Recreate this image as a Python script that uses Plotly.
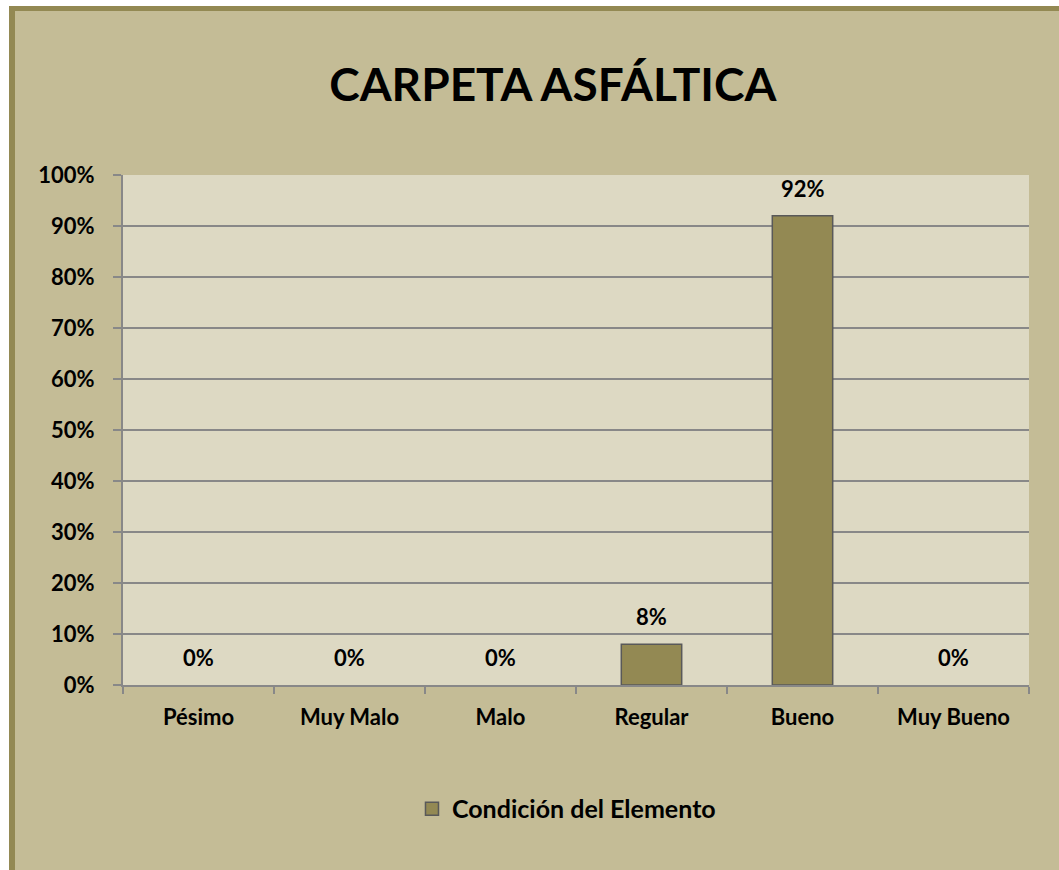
import plotly.graph_objects as go

categories = ["Pésimo", "Muy Malo", "Malo", "Regular", "Bueno", "Muy Bueno"]
values = [0.0, 0.0, 0.0, 0.08, 0.92, 0.0]
value_labels = ["0%", "0%", "0%", "8%", "92%", "0%"]
y_tick_vals = [0, 0.1, 0.2, 0.3, 0.4, 0.5, 0.6, 0.7, 0.8, 0.9, 1.0]
y_tick_text = ["0%", "10%", "20%", "30%", "40%", "50%", "60%", "70%", "80%", "90%", "100%"]
series_name = "Condición del Elemento"
title_text = "CARPETA ASFÁLTICA"

FONT = "Lato"
BAR = "#938953"
PAPER = "#C4BC96"
PLOT = "#DDD9C3"
GRID = "#888888"
EDGE = "#595959"

fig = go.Figure()
fig.add_trace(go.Bar(
    x=categories, y=values, name=series_name,
    marker=dict(color=BAR, line=dict(color=EDGE, width=[1.5 if v > 0 else 0 for v in values])),
    showlegend=False, hoverinfo="skip",
))
# legend entry with a larger square swatch
fig.add_trace(go.Scatter(
    x=[None], y=[None], mode="markers", name="<b>%s</b>" % series_name,
    marker=dict(symbol="square", size=13, color=BAR, line=dict(color=EDGE, width=1.5)),
    showlegend=True, hoverinfo="skip",
))

for c, v, t in zip(categories, values, value_labels):
    fig.add_annotation(x=c, y=v, text="<b>%s</b>" % t, showarrow=False,
                       yanchor="bottom", yshift=12,
                       font=dict(family=FONT, size=22, color="black"))

# frame (outer chart border / page margin)
shapes = [
    dict(type="rect", xref="paper", yref="paper", x0=-0.3, x1=-0.1258, y0=-0.6, y1=1.6,
         fillcolor="white", line=dict(width=0), layer="above"),
    dict(type="rect", xref="paper", yref="paper", x0=-0.3, x1=1.3, y0=1.3314, y1=1.6,
         fillcolor="white", line=dict(width=0), layer="above"),
    dict(type="rect", xref="paper", yref="paper", x0=-0.1258, x1=-0.1192, y0=-0.6, y1=1.3314,
         fillcolor=BAR, line=dict(width=0), layer="above"),
    dict(type="rect", xref="paper", yref="paper", x0=-0.1258, x1=1.3, y0=1.3216, y1=1.3314,
         fillcolor=BAR, line=dict(width=0), layer="above"),
]

fig.update_layout(
    width=1059, height=870,
    margin=dict(l=123, r=30, t=175, b=185),
    paper_bgcolor=PAPER, plot_bgcolor=PLOT,
    font=dict(family=FONT, color="black"),
    title=dict(text="<b>%s</b>" % title_text, x=0.522, xanchor="center",
               y=1 - 85 / 870, yanchor="middle",
               font=dict(family=FONT, size=46, color="black")),
    bargap=0.6,
    shapes=shapes,
    legend=dict(orientation="h", x=0.4895, xanchor="center", y=-0.243, yanchor="middle",
                font=dict(family=FONT, size=25, color="black"),
                itemwidth=30, bgcolor="rgba(0,0,0,0)"),
    showlegend=True,
)

fig.update_xaxes(
    type="category", tickson="boundaries", ticks="outside", ticklen=7, tickwidth=2,
    tickcolor=GRID, showline=True, linecolor=GRID, linewidth=2,
    tickfont=dict(family=FONT, size=22, color="black"),
    ticktext=["<b>%s</b>" % c for c in categories], tickvals=categories,
    ticklabelstandoff=12, showgrid=False,
)
fig.update_yaxes(
    range=[0, 1.0], tickvals=y_tick_vals, ticktext=["<b>%s</b>" % t for t in y_tick_text],
    ticks="outside", ticklen=8, tickwidth=2, tickcolor=GRID,
    showline=True, linecolor=GRID, linewidth=2,
    showgrid=True, gridcolor=GRID, gridwidth=2, zeroline=False,
    tickfont=dict(family=FONT, size=22, color="black"),
    ticklabelstandoff=14,
)

fig.write_html("out.html")
